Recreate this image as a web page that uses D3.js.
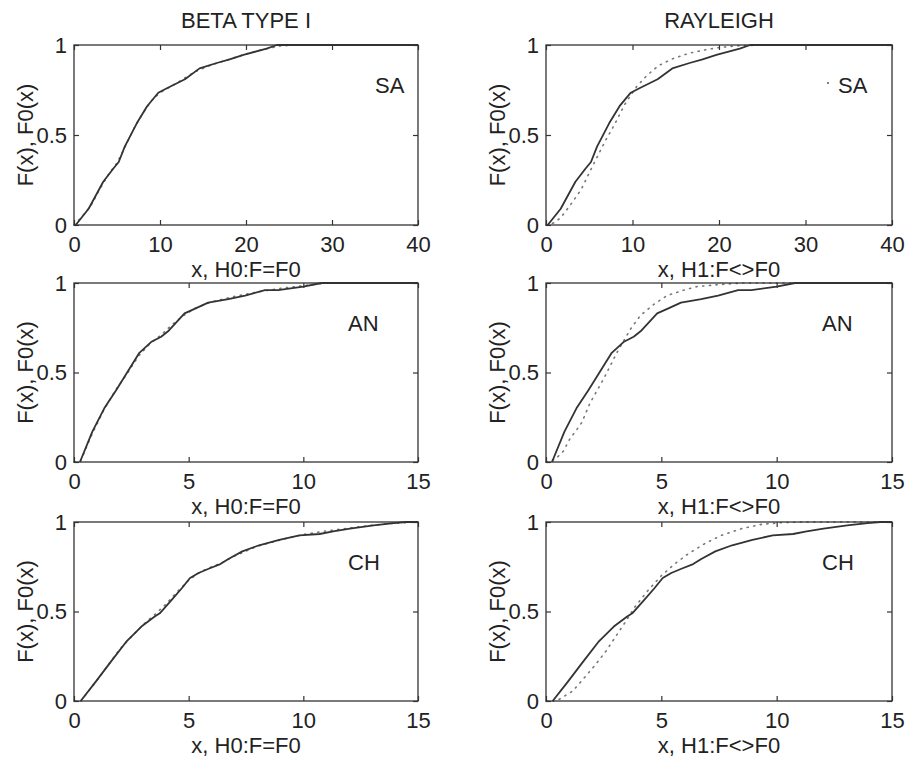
<!DOCTYPE html>
<html>
<head>
<meta charset="utf-8">
<script src="https://cdn.jsdelivr.net/npm/d3@7/dist/d3.min.js"></script>
<style>
  html, body { margin: 0; padding: 0; background: #fff; }
  svg { display: block; }
  text { font-family: "Liberation Sans", Arial, Helvetica, sans-serif; fill: #222; }
</style>
</head>
<body>
<svg id="chart" width="905" height="758"></svg>
<script>
// ---------- text / categories ----------
const columnTitles = ["BETA TYPE I", "RAYLEIGH"];
const rowLabels = ["SA", "AN", "CH"];
const xAxisLabels = ["x, H0:F=F0", "x, H1:F<>F0"];
const yAxisLabel = "F(x), F0(x)";
const xTicksSA = [0, 10, 20, 30, 40];
const xTicksANCH = [0, 5, 10, 15];
const yTicks = [0, 0.5, 1];
const xDomainSA = [0, 40];
const xDomainANCH = [0, 15];

// ---------- SA ----------
const saEmpX = [0.2, 1.7, 3.4, 4.6, 5.2, 5.9, 7.3, 8.5, 9.8, 10.8, 12.9, 14.6, 16.6, 18.1, 19.7, 22.4, 23.6, 40];
const saEmpF = [0, 0.09, 0.24, 0.315, 0.35, 0.435, 0.565, 0.66, 0.735, 0.76, 0.81, 0.87, 0.90, 0.92, 0.945, 0.98, 1, 1];
const saBetaX = [0, 1, 2, 3, 4, 5, 6, 7, 8, 9, 10, 12, 14, 16, 18, 20, 22, 24, 26, 40];
const saBetaF = [0, 0.05, 0.11, 0.2, 0.28, 0.345, 0.44, 0.54, 0.62, 0.69, 0.735, 0.79, 0.85, 0.89, 0.92, 0.95, 0.975, 0.995, 1, 1];
const saRayX = [0, 0.9, 1.7, 2.95, 4.1, 5.1, 6.25, 7.0, 8.0, 9.1, 10.5, 11.65, 13, 14.7, 16.6, 18.6, 19.9, 22, 25, 40];
const saRayF = [0, 0.012, 0.04, 0.12, 0.2, 0.3, 0.41, 0.48, 0.565, 0.67, 0.77, 0.83, 0.885, 0.925, 0.955, 0.975, 0.985, 0.995, 1, 1];

// ---------- AN ----------
const anEmpX = [0.26, 0.8, 1.32, 1.83, 2.27, 2.85, 3.36, 3.8, 4.1, 4.82, 5.33, 5.85, 6.73, 7.46, 8.33, 8.9, 10, 10.8, 15];
const anEmpF = [0, 0.17, 0.30, 0.40, 0.49, 0.61, 0.67, 0.70, 0.73, 0.83, 0.86, 0.89, 0.91, 0.93, 0.96, 0.96, 0.98, 1, 1];
const anBetaX = [0, 0.3, 0.8, 1.3, 1.8, 2.3, 2.8, 3.3, 3.8, 4.3, 4.8, 5.3, 6, 7, 8, 9, 10, 11, 15];
const anBetaF = [0, 0.01, 0.16, 0.29, 0.40, 0.49, 0.59, 0.66, 0.71, 0.77, 0.82, 0.86, 0.895, 0.925, 0.95, 0.97, 0.985, 1, 1];
const anRayX = [0, 0.4, 0.75, 1.04, 1.33, 1.55, 1.91, 2.35, 2.64, 3.07, 3.65, 4.1, 4.67, 5.25, 5.97, 6.55, 7.4, 8.5, 15];
const anRayF = [0, 0.015, 0.06, 0.13, 0.18, 0.22, 0.33, 0.43, 0.50, 0.61, 0.74, 0.82, 0.88, 0.93, 0.96, 0.98, 0.99, 1, 1];

// ---------- CH ----------
const chEmpX = [0.29, 0.95, 1.61, 2.27, 2.94, 3.52, 3.74, 4.26, 4.70, 5.06, 5.43, 5.87, 6.38, 6.75, 7.34, 8.07, 8.95, 9.83, 10.71, 11.3, 12.03, 13.06, 13.94, 14.5, 15];
const chEmpF = [0, 0.108, 0.22, 0.33, 0.416, 0.472, 0.49, 0.565, 0.63, 0.687, 0.715, 0.739, 0.765, 0.795, 0.836, 0.87, 0.90, 0.925, 0.933, 0.948, 0.963, 0.981, 0.994, 1, 1];
const chBetaX = [0, 0.3, 1, 2, 3, 3.5, 4, 4.5, 5, 5.5, 6, 6.5, 7, 8, 9, 10, 10.5, 11, 11.5, 12, 13, 14, 15];
const chBetaF = [0, 0, 0.115, 0.29, 0.425, 0.48, 0.54, 0.61, 0.675, 0.72, 0.75, 0.775, 0.81, 0.865, 0.9, 0.93, 0.94, 0.95, 0.958, 0.966, 0.982, 0.994, 1];
const chRayX = [0, 0.36, 0.58, 1.16, 1.67, 2.1, 2.61, 3.04, 3.48, 3.84, 4.42, 5.0, 5.58, 6.16, 6.88, 7.6, 8.48, 9.35, 10.2, 11, 15];
const chRayF = [0, 0, 0.01, 0.056, 0.131, 0.196, 0.28, 0.364, 0.449, 0.523, 0.617, 0.70, 0.766, 0.822, 0.879, 0.925, 0.963, 0.987, 0.996, 1, 1];

// ---------- layout ----------
const colX = [[74, 418], [546, 892]];
const rowY = [[45, 225], [283, 462], [522, 701]];
const fontSize = 22;

const rows = [
  { label: rowLabels[0], dom: xDomainSA, ticks: xTicksSA, emp: [saEmpX, saEmpF], fits: [[saBetaX, saBetaF], [saRayX, saRayF]] },
  { label: rowLabels[1], dom: xDomainANCH, ticks: xTicksANCH, emp: [anEmpX, anEmpF], fits: [[anBetaX, anBetaF], [anRayX, anRayF]] },
  { label: rowLabels[2], dom: xDomainANCH, ticks: xTicksANCH, emp: [chEmpX, chEmpF], fits: [[chBetaX, chBetaF], [chRayX, chRayF]] }
];

const svg = d3.select("#chart");
svg.append("rect").attr("width", 905).attr("height", 758).attr("fill", "#fff");

const zip = (xs, ys) => xs.map((v, i) => [v, ys[i]]);

rows.forEach((row, ri) => {
  [0, 1].forEach(ci => {
    const [x0, x1] = colX[ci];
    const [y0, y1] = rowY[ri];
    const x = d3.scaleLinear().domain(row.dom).range([x0, x1]);
    const y = d3.scaleLinear().domain([0, 1]).range([y1, y0]);
    const g = svg.append("g");
    const clipId = `clip-${ri}-${ci}`;
    g.append("clipPath").attr("id", clipId)
      .append("rect").attr("x", x0 - 1).attr("y", y0 - 1).attr("width", x1 - x0 + 2).attr("height", y1 - y0 + 2);

    const line = d3.line().x(d => x(d[0])).y(d => y(d[1]));
    const lg = g.append("g").attr("clip-path", `url(#${clipId})`);

    // fitted CDF (dotted)
    lg.append("path")
      .attr("d", line(zip(row.fits[ci][0], row.fits[ci][1])))
      .attr("fill", "none").attr("stroke", "#777").attr("stroke-width", 1.6)
      .attr("stroke-dasharray", "1.2,5.5").attr("stroke-linecap", "round");
    // empirical CDF (solid)
    lg.append("path")
      .attr("d", line(zip(row.emp[0], row.emp[1])))
      .attr("fill", "none").attr("stroke", "#333").attr("stroke-width", 1.8)
      .attr("stroke-linejoin", "round");

    // frame
    g.append("rect").attr("x", x0).attr("y", y0).attr("width", x1 - x0).attr("height", y1 - y0)
      .attr("fill", "none").attr("stroke", "#333").attr("stroke-width", 1.3);

    // axes (inward ticks)
    const bottom = g.append("g").attr("transform", `translate(0,${y1})`)
      .call(d3.axisBottom(x).tickValues(row.ticks).tickSize(-5).tickPadding(11).tickFormat(d3.format("")));
    const top = g.append("g").attr("transform", `translate(0,${y0})`)
      .call(d3.axisTop(x).tickValues(row.ticks).tickSize(-5).tickFormat(""));
    const left = g.append("g").attr("transform", `translate(${x0},0)`)
      .call(d3.axisLeft(y).tickValues(yTicks).tickSize(-5).tickPadding(7).tickFormat(d3.format("")));
    const right = g.append("g").attr("transform", `translate(${x1},0)`)
      .call(d3.axisRight(y).tickValues(yTicks).tickSize(-5).tickFormat(""));
    [bottom, top, left, right].forEach(a => {
      a.select(".domain").remove();
      a.selectAll(".tick line").attr("stroke", "#333").attr("stroke-width", 1.2);
      a.selectAll("text").attr("font-size", fontSize).attr("fill", "#222")
        .attr("font-family", '"Liberation Sans", Arial, Helvetica, sans-serif');
    });

    // x label
    g.append("text").attr("x", (x0 + x1) / 2).attr("y", y1 + 52)
      .attr("text-anchor", "middle").attr("font-size", fontSize).text(xAxisLabels[ci]);
    // y label
    const ylx = ci === 0 ? 33 : 505;
    g.append("text").attr("transform", `translate(${ylx},${(y0 + y1) / 2}) rotate(-90)`)
      .attr("text-anchor", "middle").attr("font-size", fontSize).text(yAxisLabel);

    // row label
    if (ri === 0 && ci === 1) {
      g.append("circle").attr("cx", 828).attr("cy", 83).attr("r", 1).attr("fill", "#555");
      g.append("text").attr("x", 838).attr("y", y0 + 48).attr("font-size", fontSize).text(row.label);
    } else {
      const lx = ri === 0 ? 375 : (ci === 0 ? 348 : 822);
      g.append("text").attr("x", lx).attr("y", y0 + 48).attr("font-size", fontSize).text(row.label);
    }
  });
});

// column titles
columnTitles.forEach((t, ci) => {
  svg.append("text").attr("x", (colX[ci][0] + colX[ci][1]) / 2).attr("y", 28)
    .attr("text-anchor", "middle").attr("font-size", fontSize).text(t);
});
</script>
</body>
</html>
